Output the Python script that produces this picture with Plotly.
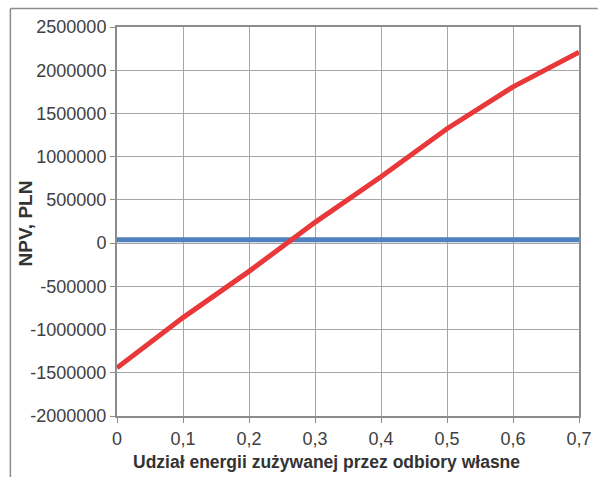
import plotly.graph_objects as go

x_share = [0, 0.1, 0.2, 0.3, 0.4, 0.5, 0.6, 0.7]
npv_red = [-1443000, -862000, -327000, 240000, 767000, 1323000, 1807000, 2208000]
npv_blue = [40000, 40000, 40000, 40000, 40000, 40000, 40000, 40000]

x_ticks = [0, 0.1, 0.2, 0.3, 0.4, 0.5, 0.6, 0.7]
x_ticktext = ["0", "0,1", "0,2", "0,3", "0,4", "0,5", "0,6", "0,7"]
y_ticks = [-2000000, -1500000, -1000000, -500000, 0, 500000, 1000000, 1500000, 2000000, 2500000]
y_ticktext = [str(v) for v in y_ticks]

font_family = "Liberation Sans, Arial, sans-serif"

L, R, T, B = 117, 19, 27, 61
W, H = 604, 477
pw, ph = W - L - R, H - T - B

fig = go.Figure()
fig.add_trace(go.Scatter(x=x_share, y=npv_blue, mode="lines",
                         line=dict(color="#4f81bd", width=5), showlegend=False))
fig.add_trace(go.Scatter(x=x_share, y=npv_red, mode="lines",
                         line=dict(color="#e8383a", width=5), showlegend=False))

axis_common = dict(showgrid=True, gridcolor="#a6a6a6", gridwidth=1,
                   showline=True, linecolor="#8c8c8c", linewidth=2, mirror=True,
                   ticks="outside", ticklen=5, tickcolor="#8c8c8c",
                   zeroline=False, tickfont=dict(size=18, color="#404040"))

frame_top = (ph + T - 8.5) / ph
frame_left = (9 - L) / pw

fig.update_layout(
    width=W, height=H,
    margin=dict(l=L, r=R, t=T, b=B),
    paper_bgcolor="white", plot_bgcolor="white",
    font=dict(family=font_family, size=18, color="#404040"),
    xaxis=dict(range=[0, 0.7], tickvals=x_ticks, ticktext=x_ticktext, **axis_common),
    yaxis=dict(range=[-2000000, 2500000], tickvals=y_ticks, ticktext=y_ticktext, **axis_common),
    annotations=[
        dict(text="<b>Udział energii zużywanej przez odbiory własne</b>",
             xref="paper", yref="paper", x=0, xshift=326 - L, y=0, yshift=-46,
             showarrow=False, font=dict(size=17.5, color="#333333"),
             xanchor="center", yanchor="middle"),
        dict(text="<b>NPV, PLN</b>", xref="paper", yref="paper",
             x=0, xshift=-(L - 25), y=0.5, yshift=-2, textangle=-90,
             showarrow=False, font=dict(size=19, color="#333333"),
             xanchor="center", yanchor="middle"),
    ],
    shapes=[
        dict(type="line", xref="paper", yref="paper",
             x0=frame_left, x1=(W - L) / pw,
             y0=frame_top, y1=frame_top,
             line=dict(color="#8c8c8c", width=1.5), layer="above"),
        dict(type="line", xref="paper", yref="paper",
             x0=frame_left, x1=frame_left,
             y0=-(B + 10) / ph, y1=frame_top,
             line=dict(color="#8c8c8c", width=1.5), layer="above"),
    ],
)

fig.write_html("out.html", config={"displayModeBar": False},
               post_script="document.body.style.margin='0px';")
